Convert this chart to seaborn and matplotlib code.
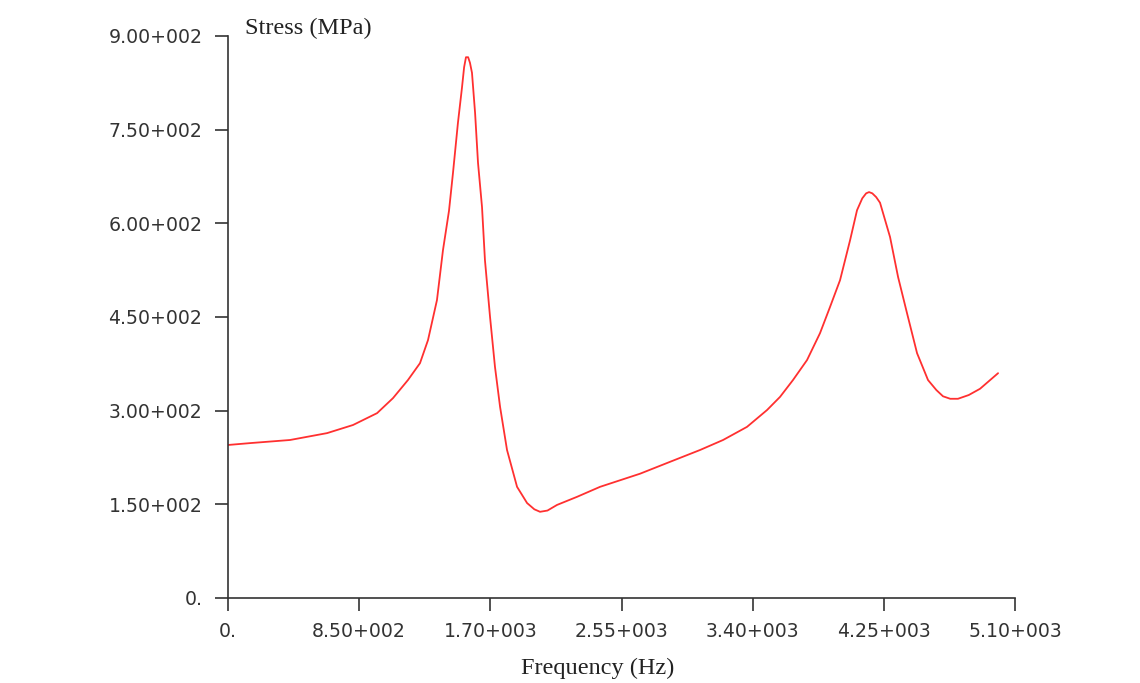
import pandas as pd
import seaborn as sns
import matplotlib.pyplot as plt

# frequency response
freq = [0, 143, 402, 642, 810, 966, 1069, 1166, 1244, 1296, 1354, 1393, 1432,
        1458, 1490, 1516, 1530, 1542, 1556, 1568, 1581, 1601, 1620, 1646, 1665,
        1698, 1730, 1763, 1808, 1873, 1938, 1985, 2022, 2070, 2132, 2262, 2411,
        2670, 2864, 3059, 3208, 3363, 3493, 3577, 3661, 3752, 3836, 3901, 3966,
        4031, 4076, 4110, 4135, 4154, 4175, 4200, 4225, 4290, 4342, 4400, 4465,
        4536, 4590, 4633, 4680, 4730, 4800, 4873, 4990]
stress = [245, 248, 253, 264, 277, 296, 320, 349, 376, 413, 477, 557, 620,
          681, 761, 817, 850, 866, 866, 857, 841, 777, 697, 626, 541,
          450, 370, 306, 237, 178, 152, 142, 138, 140, 149, 162, 178,
          199, 218, 237, 253, 274, 301, 322, 349, 381, 424, 466, 509,
          573, 621, 640, 648, 650, 648, 642, 633, 578, 514, 456, 392,
          349, 333, 323, 319, 319, 325, 335, 360]

x_ticks = [0, 850, 1700, 2550, 3400, 4250, 5100]
x_labels = ["0.", "8.50+002", "1.70+003", "2.55+003", "3.40+003", "4.25+003", "5.10+003"]
y_ticks = [0, 150, 300, 450, 600, 750, 900]
y_labels = ["0.", "1.50+002", "3.00+002", "4.50+002", "6.00+002", "7.50+002", "9.00+002"]

df = pd.DataFrame({"Frequency": freq, "Stress": stress})

sns.set_style("ticks")
plt.rcParams["font.family"] = ["DejaVu Sans"]

fig = plt.figure(figsize=(11.4, 6.83), dpi=100)
ax = fig.add_axes([0.2, 0.1245, 0.6904, 0.8228])

sns.lineplot(data=df, x="Frequency", y="Stress", ax=ax, color="#ff3030", linewidth=1.3)

ax.set_xlim(0, 5100)
ax.set_ylim(0, 900)
ax.set_xticks(x_ticks)
ax.set_xticklabels(x_labels)
ax.set_yticks(y_ticks)
ax.set_yticklabels(y_labels)
ax.set_xlabel("")
ax.set_ylabel("")

for side in ["top", "right"]:
    ax.spines[side].set_visible(False)
for side in ["left", "bottom"]:
    ax.spines[side].set_color("#333333")
    ax.spines[side].set_linewidth(1.2)

ax.tick_params(axis="both", length=9.5, width=1.2, color="#333333",
               labelcolor="#333333", labelsize=13.6)
ax.tick_params(axis="y", pad=9)
ax.tick_params(axis="x", pad=8)

serif = ["Liberation Serif", "DejaVu Serif"]
fig.text(0.2145, 0.958, "Stress (MPa)", family=serif, fontsize=17.5,
         color="#222222", ha="left", va="center")
fig.text(0.5245, 0.022, "Frequency (Hz)", family=serif, fontsize=17.5,
         color="#222222", ha="center", va="center")

fig.savefig("out.png", dpi=100)
